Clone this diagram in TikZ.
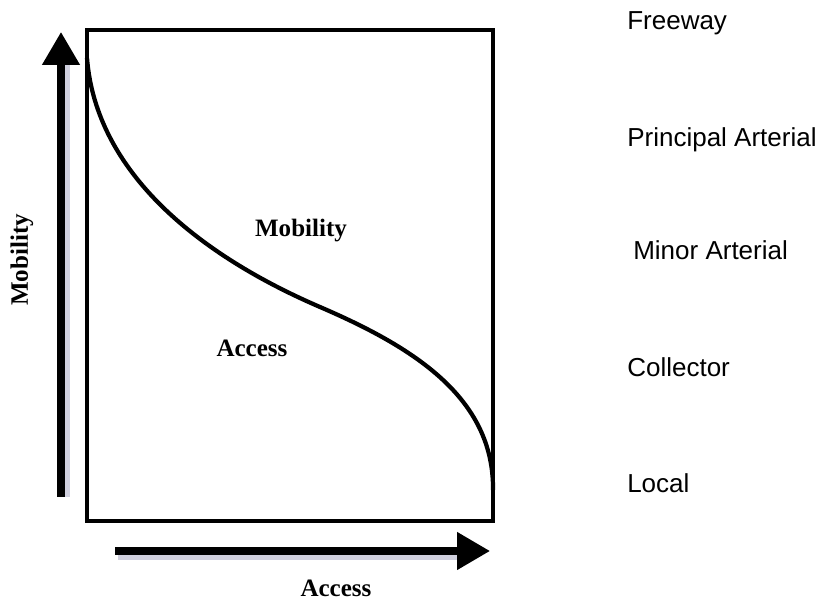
\documentclass[tikz,border=0pt]{standalone}
\usepackage{fontspec}
\setmainfont{Liberation Serif}
\setsansfont{Liberation Sans}
\usetikzlibrary{arrows.meta}
\definecolor{shadowgray}{RGB}{196,196,214}
\tikzset{
	axislabel/.style={font=\fontsize{17.8}{20}\selectfont\bfseries, inner sep=0},
	roadlabel/.style={font=\fontsize{18.5}{21}\sffamily, inner sep=0, anchor=base west},
	bigarrow/.style={line width=5pt, -{Triangle[width=0.9cm,length=0.82cm]}},
}

\begin{document}
\begin{tikzpicture}
		%%%%% START %%%%%
		\useasboundingbox (0, 0) rectangle (20.575, 15.125);
		
		% shadows of the two arrows
		\draw[line width=5pt, color=shadowgray, opacity=0.8] (1.66, 2.7) -- (1.66, 13.6);
		\draw[line width=5pt, color=shadowgray, opacity=0.8] (2.95, 1.22) -- (11.6, 1.22);
		
		% axes
		\draw[bigarrow] (1.525, 2.7) -- (1.525, 14.325);
		\draw[bigarrow] (2.875, 1.35) -- (12.25, 1.35);
		
		% frame
		\draw[line width=3.4pt] (2.175, 2.1) rectangle (12.325, 14.375);
		
		% mobility / access curve
		\draw[line width=3pt] (2.175, 13.675) .. controls (2.4, 10.8) and (5.0, 8.74) .. (8.0, 7.45)
			.. controls (10.3, 6.46) and (12.35, 5.2) .. (12.325, 2.875);
		
		\node[axislabel, anchor=base] (mobin) at (7.525, 9.2) {Mobility};
		\node[axislabel, anchor=base] (accin) at (6.3, 6.2) {Access};
		\node[axislabel, anchor=base] (accx) at (8.4, 0.2) {Access};
		\node[axislabel, rotate=90] (moby) at (0.55, 8.625) {Mobility};
		
		% functional classes
		\node[roadlabel] (freeway) at (15.675, 14.375) {Freeway};
		\node[roadlabel] (principal) at (15.675, 11.45) {Principal Arterial};
		\node[roadlabel] (minor) at (15.825, 8.625) {Minor Arterial};
		\node[roadlabel] (collector) at (15.675, 5.7) {Collector};
		\node[roadlabel] (local) at (15.675, 2.8) {Local};
		
		%%%%% END %%%%%
	\end{tikzpicture}
\end{document}
